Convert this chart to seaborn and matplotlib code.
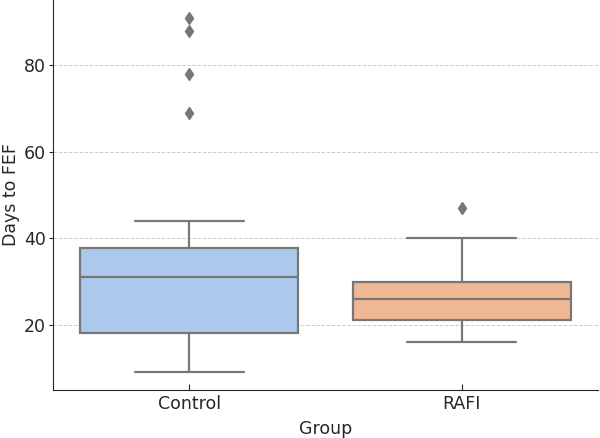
import matplotlib
matplotlib.use("Agg")
import matplotlib.pyplot as plt
import seaborn as sns
import pandas as pd

groups = ["Control", "RAFI"]
control_days = [9, 12, 14, 16, 17, 18, 18, 21, 24, 27, 30, 32, 33, 34, 35, 37, 38, 44, 69, 78, 88, 91]
rafi_days = [16, 18, 19, 20, 21, 21, 22, 24, 25, 27, 28, 28, 29, 30, 33, 36, 40, 47]

df = pd.DataFrame({
    "Group": [groups[0]] * len(control_days) + [groups[1]] * len(rafi_days),
    "Days to FEF": control_days + rafi_days,
})

sns.set_style("ticks")
plt.rcParams["font.family"] = ["DejaVu Sans"]

fig = plt.figure(figsize=(6, 4.38), dpi=100)
ax = fig.add_axes([0.088, 0.11, 0.909, 0.89])

sns.boxplot(data=df, x="Group", y="Days to FEF", hue="Group", palette="pastel",
            legend=False, width=0.8, linewidth=1.6, linecolor="#777777",
            flierprops=dict(marker="d", markersize=6, markerfacecolor="#777777",
                            markeredgecolor="#777777"), ax=ax)

ax.yaxis.grid(True, linestyle="--", color="#cccccc", linewidth=0.7)
ax.set_axisbelow(True)
ax.set_yticks([20, 40, 60, 80])
ax.tick_params(axis="y", labelsize=12.5, length=3, pad=2, direction="out")
ax.tick_params(axis="x", labelsize=12.5, length=4, pad=4, direction="in")
ax.set_xlabel("Group", fontsize=12.5, labelpad=5)
ax.set_ylabel("Days to FEF", fontsize=12.5, labelpad=3)
sns.despine(ax=ax)

fig.savefig("out.png", dpi=100)
